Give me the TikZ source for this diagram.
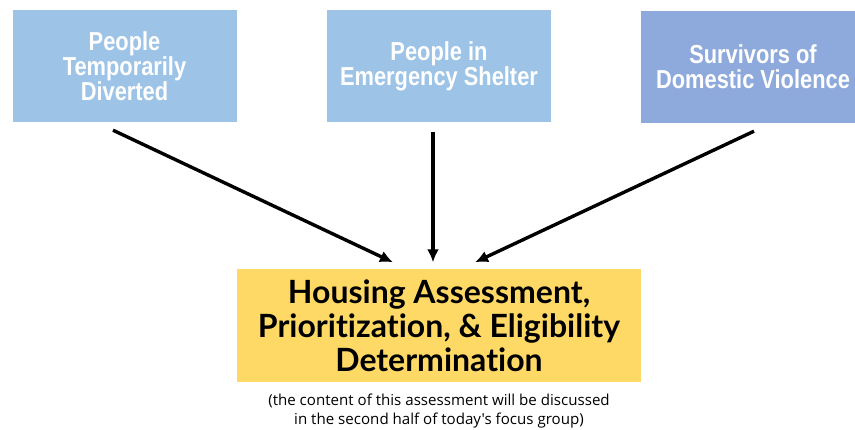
\documentclass[tikz,border=0pt]{standalone}
\usepackage{fontspec}
\setmainfont[Ligatures=NoCommon]{Lato}
\newfontfamily\condfont[FakeStretch=0.84]{Liberation Sans}
\newfontfamily\notefont{Open Sans}
\usepackage{tikz}
\usetikzlibrary{arrows.meta}

\definecolor{paleblue}{HTML}{9DC3E6}
\definecolor{slateblue}{HTML}{8EA9DB}
\definecolor{goldbox}{HTML}{FFD966}

\tikzset{
  group/.style={minimum width=224pt, minimum height=112pt, inner sep=0pt,
    text=white, align=center, font=\condfont\bfseries\fontsize{26}{25}\selectfont},
  flow/.style={line width=3.4pt, -{Latex[length=13pt,width=12pt]}}
}

\begin{document}
\begin{tikzpicture}[x=1pt,y=1pt]
      \useasboundingbox (0,0) rectangle (855,430);
      \clip (0,0) rectangle (855,430);
      \node[group, fill=paleblue] (diverted) at (124.5,364) {People\\Temporarily\\Diverted};
      \node[group, fill=paleblue] (shelter) at (439,364) {People in\\Emergency Shelter};
      \node[group, fill=slateblue] (survivors) at (753,363) {Survivors of\\Domestic Violence};

      \node[fill=goldbox, minimum width=404pt, minimum height=113pt, inner sep=0pt,
        align=center, font=\bfseries\fontsize{32}{34}\selectfont] (assess) at (439,104.5)
        {Housing Assessment,\\Prioritization, \& Eligibility\\Determination};
      \node[align=center, font=\notefont\fontsize{15.1}{19}\selectfont] (note) at (439,19)
        {(the content of this assessment will be discussed\\in the second half of today's focus group)};

      \draw[flow] ([shift={(-11.5,-8)}]diverted.south) -- ([shift={(-46,6.5)}]assess.north);
      \draw[flow] ([shift={(-6,-10)}]shelter.south) -- ([shift={(-6,6.5)}]assess.north);
      \draw[flow] ([shift={(1,-8)}]survivors.south) -- ([shift={(36,6.5)}]assess.north);
\end{tikzpicture}
\end{document}
